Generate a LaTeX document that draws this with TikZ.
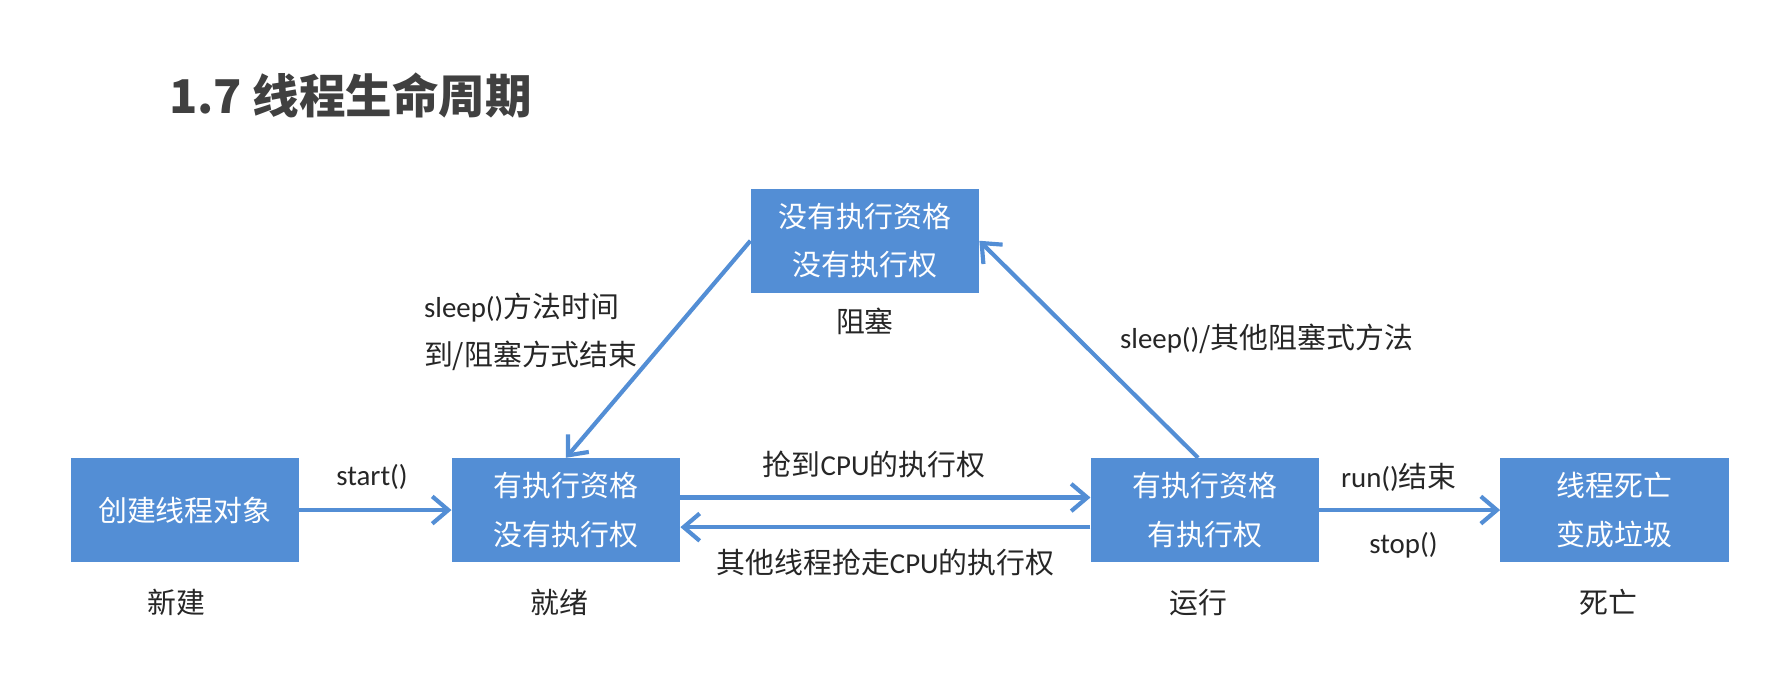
\documentclass[tikz,border=0pt]{standalone}
\usepackage{fontspec}
\setmainfont{Noto Sans CJK SC}
\newfontfamily\latfont{Carlito}
\usetikzlibrary{arrows.meta, positioning, calc}
\definecolor{stateblue}{RGB}{83, 142, 213}
\definecolor{labelgray}{RGB}{38, 38, 38}
\definecolor{titlegray}{RGB}{64, 64, 64}
\newcommand{\lt}[1]{{\latfont #1}}

\begin{document}
\begin{tikzpicture}[x=0.025cm, y=-0.025cm,
    state/.style={rectangle, fill=stateblue, text=white, minimum width=5cm, minimum height=2.275cm, align=center, font=\fontsize{18}{30}\selectfont, inner sep=0pt},
    tag/.style={text=labelgray, font=\fontsize{18}{30}\selectfont, inner sep=1pt},
    trans/.style={-{Straight Barb[length=10pt, width=17pt]}, line width=2.6pt, draw=stateblue}
]
\useasboundingbox (0,0) rectangle (1560,611);
\node[anchor=west, text=titlegray, font=\fontsize{29}{34}\selectfont\bfseries, inner sep=0pt] (title) at (148,84) {1.7 线程生命周期};

% --- States ---
\node[state] (new) at (162,447) {创建线程对象};
\node[state] (ready) at (496,447) {有执行资格\\没有执行权};
\node[state] (run) at (1056,447) {有执行资格\\有执行权};
\node[state] (dead) at (1415,447) {线程死亡\\变成垃圾};
\node[state] (block) at (758,211) {没有执行资格\\没有执行权};

\node[tag] (newtag) at (155,528) {新建};
\node[tag] (readytag) at (490,528) {就绪};
\node[tag] (runtag) at (1050,528) {运行};
\node[tag] (deadtag) at (1410,528) {死亡};
\node[tag] (blocktag) at (758,282) {阻塞};

% --- Transitions ---
\draw[trans] (new.east) -- (ready.west);
\draw[trans] ($(ready.east)+(0,-11)$) -- ($(run.west)+(0,-11)$);
\draw[trans] ($(run.west)+(0,15)$) -- ($(ready.east)+(0,15)$);
\draw[trans] (run.east) -- (dead.west);
\draw[trans] (block.west) -- (ready.north);
\draw[trans] ($(run.north)+(-6,0)$) -- (block.east);

\node[tag] (lstart) at (326,418) {\lt{start()}};
\node[tag] (lgrab) at (766,407) {抢到\lt{CPU}的执行权};
\node[tag] (llose) at (776,493) {其他线程抢走\lt{CPU}的执行权};
\node[tag] (lrunend) at (1226,418) {\lt{run()}结束};
\node[tag] (lstop) at (1230,478) {\lt{stop()}};
\node[tag, align=left, anchor=west] (lwake) at (370,291) {\lt{sleep()}方法时间\\到/阻塞方式结束};
\node[tag] (lsleep) at (1110,297) {\lt{sleep()}/其他阻塞式方法};
\end{tikzpicture}
\end{document}
